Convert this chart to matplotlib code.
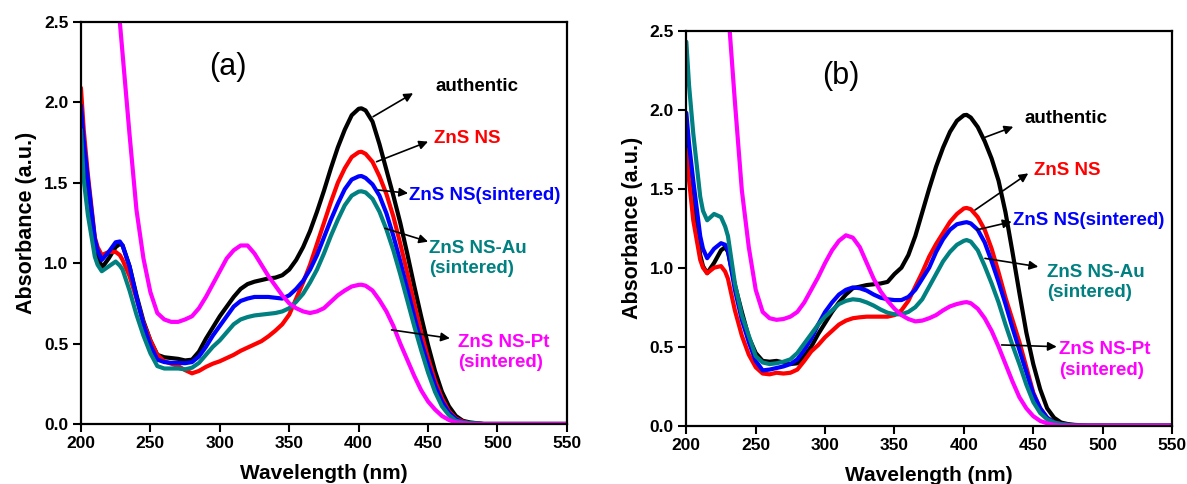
import matplotlib
matplotlib.use("Agg")
import matplotlib.pyplot as plt

plt.rcParams['font.family'] = ['Liberation Sans', 'DejaVu Sans']

# wavelength grid (nm), shared by every curve
wavelength = [200, 202, 205, 210, 212, 215, 220, 225, 228, 230, 235, 240, 245, 250, 255, 260, 265, 270,
              275, 280, 285, 290, 295, 300, 305, 310, 315, 320, 325, 330, 335, 340, 345,
              350, 355, 360, 365, 370, 375, 380, 385, 390, 395, 400, 402, 405, 410, 415, 420,
              425, 430, 435, 440, 445, 450, 455, 460, 465, 470, 475, 480, 490, 500, 550]

# ---- panel (a) ----
a_authentic = [1.95, 1.72, 1.48, 1.14, 1.06, 0.97, 1.03, 1.10, 1.12, 1.11, 0.98, 0.80, 0.64, 0.52, 0.43, 0.415, 0.41, 0.405,
               0.395, 0.40, 0.45, 0.53, 0.60, 0.67, 0.73, 0.79, 0.84, 0.87, 0.885, 0.895, 0.905, 0.91, 0.925,
               0.96, 1.02, 1.10, 1.20, 1.32, 1.45, 1.59, 1.72, 1.83, 1.92, 1.96, 1.963, 1.95, 1.88, 1.74, 1.58,
               1.42, 1.25, 1.06, 0.86, 0.67, 0.49, 0.33, 0.20, 0.11, 0.05, 0.02, 0.01, 0.0, 0.0, 0.0]
a_zns = [2.09, 1.83, 1.55, 1.16, 1.10, 1.05, 1.07, 1.07, 1.05, 1.02, 0.92, 0.78, 0.63, 0.52, 0.43, 0.39, 0.375, 0.36,
         0.335, 0.315, 0.33, 0.355, 0.375, 0.39, 0.41, 0.43, 0.455, 0.475, 0.495, 0.515, 0.545, 0.58, 0.62,
         0.68, 0.78, 0.88, 0.99, 1.12, 1.25, 1.38, 1.50, 1.59, 1.66, 1.69, 1.693, 1.68, 1.63, 1.54, 1.43,
         1.29, 1.12, 0.94, 0.75, 0.57, 0.41, 0.27, 0.16, 0.08, 0.035, 0.015, 0.005, 0.0, 0.0, 0.0]
a_sint = [1.98, 1.76, 1.52, 1.15, 1.08, 1.02, 1.07, 1.13, 1.135, 1.11, 0.98, 0.79, 0.62, 0.49, 0.40, 0.385, 0.38, 0.38,
          0.378, 0.385, 0.42, 0.48, 0.55, 0.61, 0.67, 0.73, 0.765, 0.78, 0.79, 0.79, 0.79, 0.785, 0.78,
          0.80, 0.84, 0.89, 0.96, 1.05, 1.16, 1.27, 1.37, 1.46, 1.52, 1.54, 1.542, 1.53, 1.49, 1.42, 1.31,
          1.17, 1.01, 0.84, 0.67, 0.51, 0.37, 0.24, 0.14, 0.07, 0.03, 0.01, 0.005, 0.0, 0.0, 0.0]
a_au = [1.83, 1.52, 1.30, 1.04, 0.99, 0.95, 0.98, 1.01, 0.985, 0.96, 0.83, 0.68, 0.55, 0.44, 0.36, 0.345, 0.345, 0.345,
        0.34, 0.35, 0.38, 0.43, 0.48, 0.52, 0.57, 0.62, 0.65, 0.665, 0.675, 0.68, 0.685, 0.69, 0.70,
        0.72, 0.76, 0.81, 0.88, 0.96, 1.06, 1.17, 1.27, 1.36, 1.42, 1.445, 1.447, 1.44, 1.40, 1.32, 1.21,
        1.08, 0.93, 0.77, 0.61, 0.46, 0.32, 0.20, 0.11, 0.055, 0.02, 0.01, 0.005, 0.0, 0.0, 0.0]
a_pt = [5.0, 4.8, 4.5, 4.0, 3.85, 3.6, 3.2, 2.8, 2.5, 2.3, 1.8, 1.33, 1.03, 0.82, 0.69, 0.65, 0.635, 0.635,
        0.65, 0.67, 0.72, 0.79, 0.87, 0.95, 1.03, 1.08, 1.11, 1.11, 1.06, 0.99, 0.92, 0.86, 0.80,
        0.75, 0.72, 0.70, 0.69, 0.70, 0.72, 0.76, 0.80, 0.83, 0.855, 0.865, 0.866, 0.86, 0.83, 0.77, 0.70,
        0.61, 0.50, 0.40, 0.30, 0.21, 0.14, 0.09, 0.05, 0.025, 0.01, 0.005, 0.0, 0.0, 0.0, 0.0]

# ---- panel (b) ----
b_authentic = [1.92, 1.68, 1.40, 1.08, 1.01, 0.965, 1.03, 1.11, 1.13, 1.10, 0.89, 0.72, 0.56, 0.46, 0.41, 0.405, 0.41, 0.40,
               0.39, 0.395, 0.44, 0.50, 0.58, 0.65, 0.72, 0.78, 0.83, 0.87, 0.88, 0.89, 0.895, 0.90, 0.91,
               0.96, 1.00, 1.08, 1.20, 1.35, 1.50, 1.64, 1.76, 1.86, 1.93, 1.965, 1.967, 1.95, 1.89, 1.80, 1.69,
               1.55, 1.35, 1.10, 0.84, 0.59, 0.39, 0.23, 0.11, 0.05, 0.02, 0.01, 0.005, 0.0, 0.0, 0.0]
b_zns = [1.75, 1.55, 1.30, 1.05, 1.00, 0.965, 1.00, 1.01, 0.975, 0.93, 0.73, 0.57, 0.45, 0.37, 0.33, 0.325, 0.335, 0.33,
         0.335, 0.355, 0.41, 0.47, 0.51, 0.56, 0.60, 0.64, 0.665, 0.68, 0.686, 0.69, 0.69, 0.69, 0.69,
         0.70, 0.73, 0.79, 0.88, 0.97, 1.07, 1.15, 1.22, 1.29, 1.34, 1.375, 1.378, 1.37, 1.32, 1.24, 1.12,
         0.97, 0.81, 0.67, 0.53, 0.37, 0.21, 0.11, 0.05, 0.02, 0.01, 0.005, 0.0, 0.0, 0.0, 0.0]
b_sint = [1.98, 1.78, 1.55, 1.20, 1.12, 1.06, 1.12, 1.155, 1.145, 1.11, 0.86, 0.67, 0.53, 0.41, 0.35, 0.355, 0.365, 0.375,
          0.39, 0.42, 0.48, 0.55, 0.64, 0.72, 0.78, 0.83, 0.86, 0.875, 0.87, 0.855, 0.83, 0.81, 0.80,
          0.795, 0.795, 0.815, 0.86, 0.93, 1.00, 1.10, 1.18, 1.24, 1.275, 1.285, 1.288, 1.28, 1.24, 1.16, 1.04,
          0.91, 0.77, 0.62, 0.48, 0.34, 0.20, 0.11, 0.05, 0.02, 0.01, 0.005, 0.0, 0.0, 0.0, 0.0]
b_au = [2.43, 2.15, 1.85, 1.45, 1.36, 1.30, 1.34, 1.32, 1.26, 1.20, 0.90, 0.70, 0.57, 0.44, 0.40, 0.39, 0.395, 0.405,
        0.42, 0.46, 0.52, 0.58, 0.64, 0.69, 0.73, 0.77, 0.79, 0.80, 0.795, 0.78, 0.76, 0.735, 0.715,
        0.705, 0.705, 0.72, 0.75, 0.80, 0.88, 0.96, 1.04, 1.10, 1.145, 1.17, 1.175, 1.165, 1.11, 1.01, 0.90,
        0.78, 0.64, 0.51, 0.39, 0.26, 0.15, 0.08, 0.04, 0.02, 0.01, 0.005, 0.0, 0.0, 0.0, 0.0]
b_pt = [5.0, 4.85, 4.6, 4.2, 4.05, 3.8, 3.4, 3.0, 2.79, 2.65, 2.05, 1.49, 1.13, 0.86, 0.72, 0.68, 0.67, 0.675,
        0.69, 0.72, 0.78, 0.86, 0.94, 1.03, 1.11, 1.17, 1.205, 1.19, 1.13, 1.03, 0.93, 0.85, 0.79,
        0.74, 0.70, 0.675, 0.66, 0.665, 0.68, 0.70, 0.73, 0.755, 0.77, 0.78, 0.782, 0.775, 0.74, 0.68, 0.60,
        0.50, 0.39, 0.28, 0.18, 0.11, 0.06, 0.03, 0.015, 0.005, 0.0, 0.0, 0.0, 0.0, 0.0, 0.0]

labels = ['authentic', 'ZnS NS', 'ZnS NS(sintered)', 'ZnS NS-Au\n(sintered)', 'ZnS NS-Pt\n(sintered)']
colors = ['black', '#FF0000', '#0000FF', '#008080', '#FF00FF']
x_ticks = [200, 250, 300, 350, 400, 450, 500, 550]
y_ticks = [0.0, 0.5, 1.0, 1.5, 2.0, 2.5]

# label placement (text anchor, arrow tail, arrow head) in data units
a_notes = [((455.6, 2.096), (410.4, 1.911), (439.2, 2.057)),
           ((454.1, 1.777), (412.9, 1.631), (450.0, 1.756)),
           ((436.4, 1.420), (414.0, 1.455), (435.6, 1.435)),
           ((450.8, 1.028), (418.9, 1.217), (450.0, 1.134)),
           ((471.6, 0.443), (423.7, 0.585), (465.7, 0.533))]
b_notes = [((444.0, 1.946), (415.2, 1.825), (435.6, 1.892)),
           ((450.5, 1.618), (408.0, 1.365), (446.4, 1.597)),
           ((435.6, 1.297), (409.2, 1.239), (434.4, 1.291)),
           ((459.7, 0.906), (415.2, 1.059), (453.6, 1.006)),
           ((468.7, 0.416), (427.2, 0.511), (466.9, 0.500))]


def draw_panel(ax, curves, notes, tag, tag_pos):
    for y, c in zip(curves, colors):
        ax.plot(wavelength, y, color=c, lw=3, solid_capstyle='round',
                solid_joinstyle='round', zorder=2)
    ax.set_xlim(200, 550)
    ax.set_ylim(0, 2.5)
    ax.set_xticks(x_ticks)
    ax.set_yticks(y_ticks)
    ax.set_yticklabels([f"{v:.1f}" for v in y_ticks])
    ax.tick_params(direction='out', length=5.5, width=1.5, labelsize=12.5, pad=3.5,
                   top=False, right=False)
    for t in ax.get_xticklabels() + ax.get_yticklabels():
        t.set_fontweight('bold')
    for s in ax.spines.values():
        s.set_linewidth(1.6)
    ax.set_xlabel('Wavelength (nm)', fontsize=15, fontweight='bold', labelpad=9)
    ax.set_ylabel('Absorbance (a.u.)', fontsize=15.5, fontweight='bold', labelpad=5)
    ax.text(tag_pos[0], tag_pos[1], tag, fontsize=22, ha='center', va='center')
    for (txt, tail, head), lab, c in zip(notes, labels, colors):
        ax.annotate('', xy=head, xytext=tail,
                    arrowprops=dict(arrowstyle='-|>', color='black', lw=1.2, mutation_scale=13,
                                    shrinkA=0, shrinkB=0), zorder=3)
        ax.text(txt[0], txt[1], lab, color=c, fontsize=13.5, fontweight='bold',
                ha='left', va='center', linespacing=1.25)


fig = plt.figure(figsize=(11.87, 4.84), dpi=100)
ax_a = fig.add_axes([0.0682, 0.1240, 0.4094, 0.8306])
ax_b = fig.add_axes([0.5782, 0.1205, 0.4092, 0.8161])

draw_panel(ax_a, [a_authentic, a_zns, a_sint, a_au, a_pt], a_notes, '(a)', (305.8, 2.223))
draw_panel(ax_b, [b_authentic, b_zns, b_sint, b_au, b_pt], b_notes, '(b)', (311.1, 2.216))

fig.savefig('out.png', dpi=100)
